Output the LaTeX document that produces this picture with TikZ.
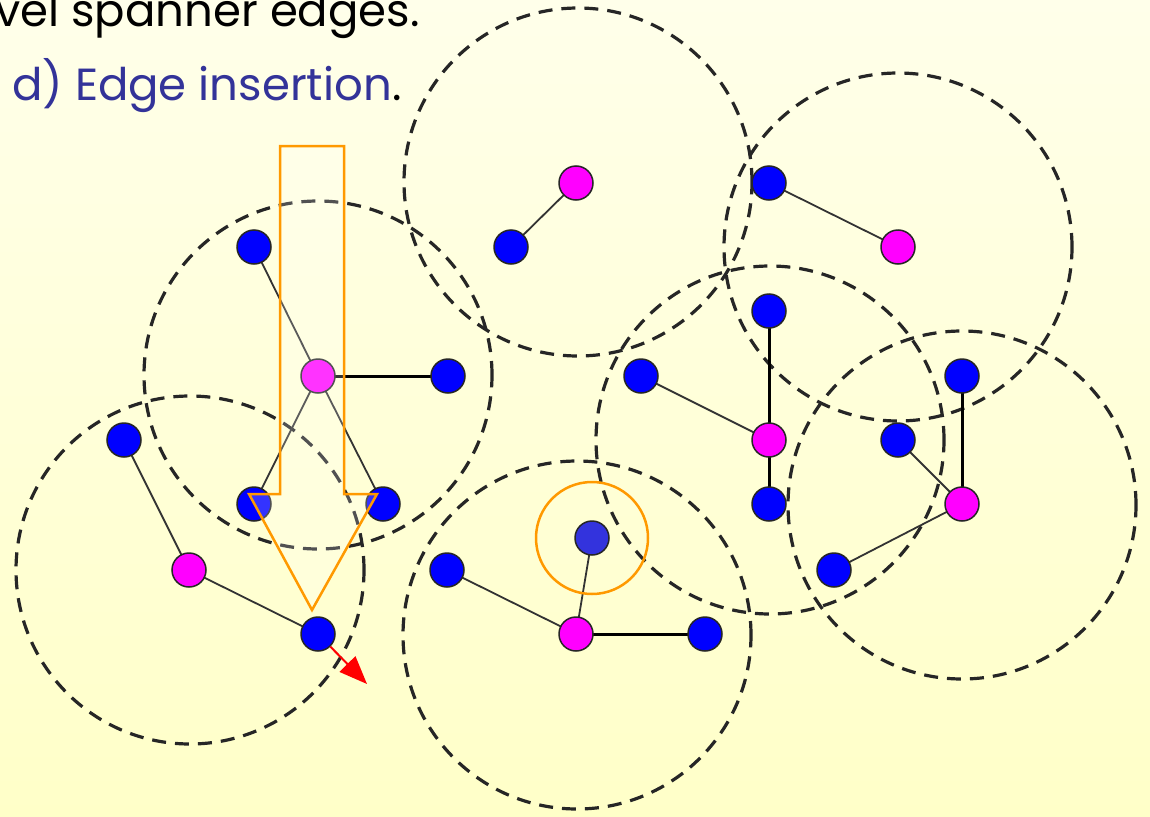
\documentclass[tikz,border=0pt]{standalone}
\usepackage{fontspec}
\setmainfont{Poppins}
\usetikzlibrary{arrows.meta}
\definecolor{nodeblue}{RGB}{0,0,255}
\definecolor{hiblue}{RGB}{51,51,221}
\definecolor{nodepink}{RGB}{255,0,255}
\definecolor{titleblue}{RGB}{51,51,153}
\definecolor{hlorange}{RGB}{255,153,0}
\definecolor{bgtop}{RGB}{255,255,234}
\definecolor{bgbot}{RGB}{255,255,200}

\begin{document}
\begin{tikzpicture}[x=1pt, y=-1pt,
    zone/.style={circle, draw=black!85, line width=3.2pt, dash pattern=on 14pt off 9pt,
                 minimum size=348pt, inner sep=0pt},
    vtx/.style={circle, draw=black!85, line width=1.5pt, minimum size=34pt, inner sep=0pt},
    bv/.style={vtx, fill=nodeblue},
    mv/.style={vtx, fill=nodepink},
    link/.style={draw=black!80, line width=1.8pt},
    strong/.style={draw=black, line width=3pt}]
  \shade[top color=bgtop, bottom color=bgbot] (0,0) rectangle (1150,816);
  \useasboundingbox (0,0) rectangle (1150,816);

  % text
  \node[anchor=base west, inner sep=0pt, font=\fontsize{45}{52}\selectfont] (head) at (-5,27) {vel spanner edges.};
  \node[anchor=base west, inner sep=0pt, font=\fontsize{45}{52}\selectfont, text=titleblue] (step4) at (12,100) {d) Edge insertion\textcolor{black}{.}};

  % clusters
  \foreach \z/\p in {z1/{578,182}, z2/{898,247}, z3/{318,375}, z4/{190,570},
                     z5/{577,635}, z6/{770,440}, z7/{962,505}}
    \node[zone] (\z) at (\p) {};

  % vertices
  \foreach \n/\p in {b1/{511,247}, b2/{769,183}, b3/{254,247}, b4/{448,376},
                     b5/{254,504}, b6/{383,504}, b7/{124,440}, b8/{318,634},
                     b9/{447,570}, b10/{705,634}, b11/{769,311}, b12/{641,376},
                     b13/{769,504}, b14/{962,376}, b15/{898,440}, b16/{834,570}}
    \coordinate (\n) at (\p);
  \foreach \n/\p in {m1/{576,183}, m2/{898,247}, m3/{318,376}, m4/{189,570},
                     m5/{576,634}, m6/{769,440}, m7/{962,504}}
    \coordinate (\n) at (\p);
  \coordinate (q) at (592,538);

  % spanner edges
  \foreach \a/\b in {b1/m1, b2/m2, b3/m3, m3/b5, m3/b6, b7/m4, m4/b8,
                     b9/m5, m5/q, b12/m6, b15/m7, m7/b16}
    \draw[link] (\a) -- (\b);
  \foreach \a/\b in {m3/b4, m5/b10, b11/m6, m6/b13, b14/m7}
    \draw[strong] (\a) -- (\b);

  \foreach \n in {1,...,16}
    \node[bv] (v\n) at (b\n) {};
  \foreach \n in {1,...,7}
    \node[mv] (w\n) at (m\n) {};
  \node[vtx, fill=hiblue] (vq) at (q) {};

  % insertion arrow
  \draw[hlorange, line width=2.5pt, fill=white, fill opacity=0.2]
    (280,146) -- (344,146) -- (344,494) -- (377,494) -- (312,610)
    -- (249,494) -- (280,494) -- cycle;
  \node[circle, draw=hlorange, line width=2.5pt, minimum size=112pt] (reach) at (q) {};

  \coordinate (push) at (367,684);
  \draw[red, line width=2pt, -{Triangle[length=28pt, width=22pt]}] (v8) -- (push);
\end{tikzpicture}
\end{document}
